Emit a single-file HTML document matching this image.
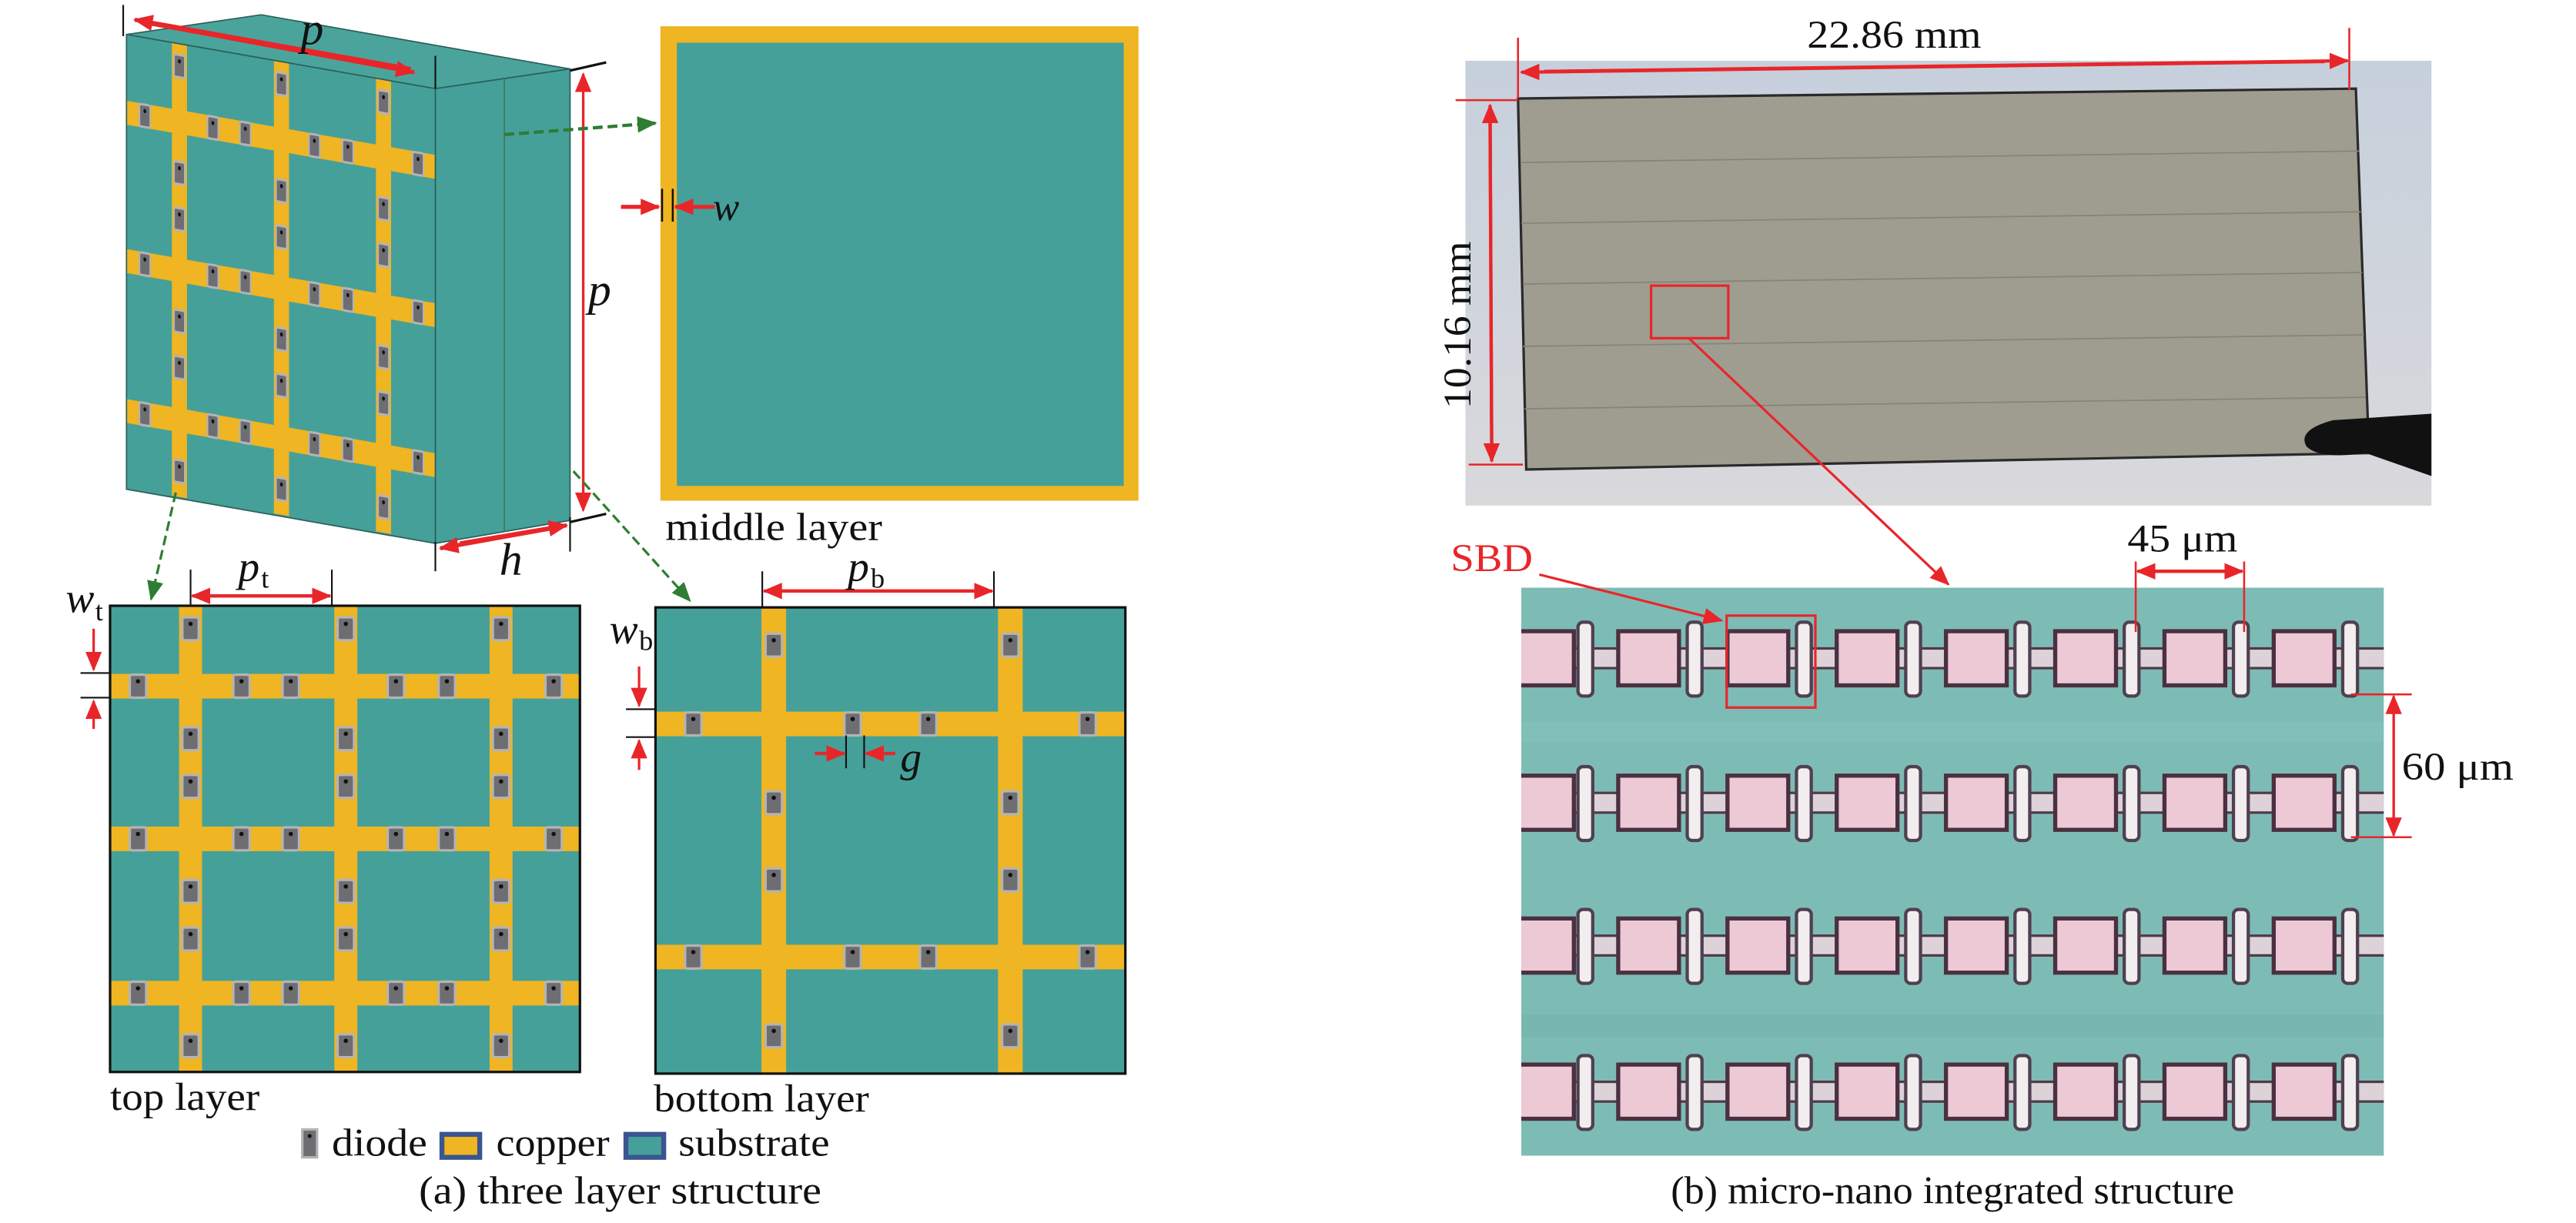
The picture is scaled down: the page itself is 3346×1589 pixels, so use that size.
<!DOCTYPE html>
<html><head><meta charset="utf-8"><style>
html,body{margin:0;padding:0;background:#fff;}
svg{display:block;}
text{font-family:"Liberation Serif",serif;fill:#111;}
</style></head><body>
<svg width="3346" height="1589" viewBox="0 0 1568 745" preserveAspectRatio="none" xmlns="http://www.w3.org/2000/svg">
<defs>
<marker id="ar" markerWidth="12" markerHeight="10" refX="11" refY="5" orient="auto" markerUnits="userSpaceOnUse"><path d="M0,0 L12,5 L0,10 z" fill="#e8262a"/></marker>
<marker id="ag" markerWidth="12" markerHeight="10" refX="11" refY="5" orient="auto" markerUnits="userSpaceOnUse"><path d="M0,0 L12,5 L0,10 z" fill="#2e7d32"/></marker>
<g id="d"><rect x="-5" y="-7" width="10" height="14" rx="1.5" fill="#6d6d72" stroke="#b4b4b4" stroke-width="1.5"/><circle cx="0" cy="-3" r="1.3" fill="#111"/></g>
<g id="top">
<rect x="67" y="369" width="286" height="284" fill="#45a09a"/>
<rect x="109" y="369" width="14" height="284" fill="#efb522"/>
<rect x="203.5" y="369" width="14" height="284" fill="#efb522"/>
<rect x="298" y="369" width="14" height="284" fill="#efb522"/>
<rect x="67" y="410.5" width="286" height="15" fill="#efb522"/>
<rect x="67" y="503.5" width="286" height="15" fill="#efb522"/>
<rect x="67" y="597.5" width="286" height="15" fill="#efb522"/>
<use href="#d" x="116" y="383"/><use href="#d" x="116" y="450"/><use href="#d" x="116" y="479"/><use href="#d" x="116" y="543"/><use href="#d" x="116" y="572"/><use href="#d" x="116" y="637"/>
<use href="#d" x="210.5" y="383"/><use href="#d" x="210.5" y="450"/><use href="#d" x="210.5" y="479"/><use href="#d" x="210.5" y="543"/><use href="#d" x="210.5" y="572"/><use href="#d" x="210.5" y="637"/>
<use href="#d" x="305" y="383"/><use href="#d" x="305" y="450"/><use href="#d" x="305" y="479"/><use href="#d" x="305" y="543"/><use href="#d" x="305" y="572"/><use href="#d" x="305" y="637"/>
<use href="#d" x="84" y="418"/><use href="#d" x="147" y="418"/><use href="#d" x="177" y="418"/><use href="#d" x="241" y="418"/><use href="#d" x="272" y="418"/><use href="#d" x="337" y="418"/>
<use href="#d" x="84" y="511"/><use href="#d" x="147" y="511"/><use href="#d" x="177" y="511"/><use href="#d" x="241" y="511"/><use href="#d" x="272" y="511"/><use href="#d" x="337" y="511"/>
<use href="#d" x="84" y="605"/><use href="#d" x="147" y="605"/><use href="#d" x="177" y="605"/><use href="#d" x="241" y="605"/><use href="#d" x="272" y="605"/><use href="#d" x="337" y="605"/>
</g>
<g id="row">
<rect x="926" y="-6" width="530" height="12" fill="#ddd2d8" stroke="#503848" stroke-width="1.5"/>
<rect x="920" y="-16.5" width="38" height="33" fill="#ecc9d4" stroke="#4a3040" stroke-width="2.5"/>
<rect x="985" y="-16.5" width="37" height="33" fill="#ecc9d4" stroke="#4a3040" stroke-width="2.5"/>
<rect x="1051.5" y="-16.5" width="37" height="33" fill="#ecc9d4" stroke="#4a3040" stroke-width="2.5"/>
<rect x="1118" y="-16.5" width="37" height="33" fill="#ecc9d4" stroke="#4a3040" stroke-width="2.5"/>
<rect x="1184.5" y="-16.5" width="37" height="33" fill="#ecc9d4" stroke="#4a3040" stroke-width="2.5"/>
<rect x="1251" y="-16.5" width="37" height="33" fill="#ecc9d4" stroke="#4a3040" stroke-width="2.5"/>
<rect x="1317.5" y="-16.5" width="37" height="33" fill="#ecc9d4" stroke="#4a3040" stroke-width="2.5"/>
<rect x="1384" y="-16.5" width="37" height="33" fill="#ecc9d4" stroke="#4a3040" stroke-width="2.5"/>
<rect x="960.5" y="-22" width="9" height="45" rx="3" fill="#f2eef0" stroke="#504050" stroke-width="2"/>
<rect x="1027" y="-22" width="9" height="45" rx="3" fill="#f2eef0" stroke="#504050" stroke-width="2"/>
<rect x="1093.5" y="-22" width="9" height="45" rx="3" fill="#f2eef0" stroke="#504050" stroke-width="2"/>
<rect x="1160" y="-22" width="9" height="45" rx="3" fill="#f2eef0" stroke="#504050" stroke-width="2"/>
<rect x="1226.5" y="-22" width="9" height="45" rx="3" fill="#f2eef0" stroke="#504050" stroke-width="2"/>
<rect x="1293" y="-22" width="9" height="45" rx="3" fill="#f2eef0" stroke="#504050" stroke-width="2"/>
<rect x="1359.5" y="-22" width="9" height="45" rx="3" fill="#f2eef0" stroke="#504050" stroke-width="2"/>
<rect x="1426" y="-22" width="9" height="45" rx="3" fill="#f2eef0" stroke="#504050" stroke-width="2"/>
</g>
<clipPath id="mc"><rect x="926" y="358" width="525" height="346"/></clipPath>
<linearGradient id="pg" x1="0" y1="0" x2="0" y2="1"><stop offset="0" stop-color="#c6d0dc"/><stop offset="1" stop-color="#d9d9dc"/></linearGradient>
</defs>

<!-- 3D box -->
<polygon points="77,21 159,9 347,42 265,54" fill="#4aa49c" stroke="#2d5f5a" stroke-width="0.8"/>
<polygon points="265,54 347,42 347,317 265,331" fill="#45a09a" stroke="#2d5f5a" stroke-width="0.8"/>
<line x1="307" y1="48" x2="307" y2="324" stroke="#3a7d55" stroke-width="0.8"/>
<polygon points="77,21 265,54 265,331 77,298" fill="#45a09a"/>
<use href="#top" transform="matrix(0.6573,0.1154,0,0.9718,32.96,-345.3)"/>
<polygon points="77,21 265,54 265,331 77,298" fill="none" stroke="#2d5f5a" stroke-width="0.8"/>

<!-- 3D dims -->
<line x1="75" y1="3" x2="75" y2="22" stroke="#111" stroke-width="1"/>
<line x1="265" y1="34" x2="265" y2="54" stroke="#111" stroke-width="1"/>
<line x1="90" y1="14" x2="252" y2="44" stroke="#e8262a" stroke-width="2.5" marker-end="url(#ar)"/>
<line x1="250" y1="42" x2="82" y2="12" stroke="#e8262a" stroke-width="2.5" marker-end="url(#ar)"/>
<text x="183" y="27" font-size="28" font-style="italic">p</text>
<line x1="347" y1="43" x2="369" y2="38" stroke="#111" stroke-width="1.5"/>
<line x1="347" y1="318" x2="369" y2="313" stroke="#111" stroke-width="1.5"/>
<line x1="355" y1="300" x2="355" y2="45" stroke="#e8262a" stroke-width="1.5" marker-end="url(#ar)"/>
<line x1="355" y1="60" x2="355" y2="311" stroke="#e8262a" stroke-width="1.5" marker-end="url(#ar)"/>
<text x="358" y="186" font-size="28" font-style="italic">p</text>
<line x1="265" y1="330" x2="265" y2="348" stroke="#111" stroke-width="1"/>
<line x1="347" y1="315" x2="347" y2="336" stroke="#111" stroke-width="1"/>
<line x1="280" y1="331" x2="345" y2="320" stroke="#e8262a" stroke-width="2.5" marker-end="url(#ar)"/>
<line x1="335" y1="322" x2="268" y2="334" stroke="#e8262a" stroke-width="2.5" marker-end="url(#ar)"/>
<text x="304" y="350" font-size="28" font-style="italic">h</text>

<!-- middle layer -->
<rect x="402" y="16" width="291" height="289" fill="#efb522"/>
<rect x="412" y="26" width="272" height="270" fill="#45a09a"/>
<line x1="403" y1="115" x2="403" y2="135" stroke="#111" stroke-width="1.2"/>
<line x1="409.5" y1="115" x2="409.5" y2="135" stroke="#111" stroke-width="1.2"/>
<line x1="378" y1="126" x2="401" y2="126" stroke="#e8262a" stroke-width="2.5" marker-end="url(#ar)"/>
<line x1="435" y1="126" x2="411" y2="126" stroke="#e8262a" stroke-width="2.5" marker-end="url(#ar)"/>
<text x="434" y="134" font-size="24" font-style="italic">w</text>
<text x="405" y="329" font-size="24" textLength="132" lengthAdjust="spacingAndGlyphs">middle layer</text>

<!-- green dashed connectors -->
<line x1="307" y1="82" x2="399" y2="75" stroke="#2e7d32" stroke-width="2" stroke-dasharray="6,3" marker-end="url(#ag)"/>
<line x1="107" y1="300" x2="92" y2="365" stroke="#2e7d32" stroke-width="1.5" stroke-dasharray="6,3" marker-end="url(#ag)"/>
<line x1="349" y1="287" x2="420" y2="366" stroke="#2e7d32" stroke-width="1.5" stroke-dasharray="6,3" marker-end="url(#ag)"/>

<!-- top layer -->
<use href="#top"/>
<rect x="67" y="369" width="286" height="284" fill="none" stroke="#111" stroke-width="1.5"/>
<line x1="116" y1="347" x2="116" y2="369" stroke="#111" stroke-width="1"/>
<line x1="202" y1="347" x2="202" y2="369" stroke="#111" stroke-width="1"/>
<line x1="125" y1="363" x2="201" y2="363" stroke="#e8262a" stroke-width="2" marker-end="url(#ar)"/>
<line x1="193" y1="363" x2="117" y2="363" stroke="#e8262a" stroke-width="2" marker-end="url(#ar)"/>
<text x="145" y="354" font-size="26" font-style="italic">p</text><text x="159" y="358" font-size="17">t</text>
<text x="40" y="373" font-size="26" font-style="italic">w</text><text x="58" y="378" font-size="17">t</text>
<line x1="49" y1="410" x2="67" y2="410" stroke="#111" stroke-width="1"/>
<line x1="49" y1="425" x2="67" y2="425" stroke="#111" stroke-width="1"/>
<line x1="57" y1="383" x2="57" y2="408" stroke="#e8262a" stroke-width="1.5" marker-end="url(#ar)"/>
<line x1="57" y1="444" x2="57" y2="427" stroke="#e8262a" stroke-width="1.5" marker-end="url(#ar)"/>
<text x="67" y="676" font-size="24" textLength="91" lengthAdjust="spacingAndGlyphs">top layer</text>

<!-- bottom layer -->
<rect x="399" y="370" width="286" height="284" fill="#45a09a"/>
<rect x="463.5" y="370" width="15" height="284" fill="#efb522"/>
<rect x="607.5" y="370" width="15" height="284" fill="#efb522"/>
<rect x="399" y="433.5" width="286" height="15" fill="#efb522"/>
<rect x="399" y="575.5" width="286" height="15" fill="#efb522"/>
<use href="#d" x="471" y="393"/><use href="#d" x="471" y="489"/><use href="#d" x="471" y="536"/><use href="#d" x="471" y="631"/>
<use href="#d" x="615" y="393"/><use href="#d" x="615" y="489"/><use href="#d" x="615" y="536"/><use href="#d" x="615" y="631"/>
<use href="#d" x="422" y="441"/><use href="#d" x="519" y="441"/><use href="#d" x="565" y="441"/><use href="#d" x="662" y="441"/>
<use href="#d" x="422" y="583"/><use href="#d" x="519" y="583"/><use href="#d" x="565" y="583"/><use href="#d" x="662" y="583"/>
<rect x="399" y="370" width="286" height="284" fill="none" stroke="#111" stroke-width="1.5"/>
<line x1="464" y1="348" x2="464" y2="370" stroke="#111" stroke-width="1"/>
<line x1="605" y1="348" x2="605" y2="370" stroke="#111" stroke-width="1"/>
<line x1="474" y1="360" x2="604" y2="360" stroke="#e8262a" stroke-width="2" marker-end="url(#ar)"/>
<line x1="595" y1="360" x2="465" y2="360" stroke="#e8262a" stroke-width="2" marker-end="url(#ar)"/>
<text x="516" y="354" font-size="26" font-style="italic">p</text><text x="530" y="358" font-size="17">b</text>
<text x="371" y="392" font-size="26" font-style="italic">w</text><text x="389" y="396" font-size="17">b</text>
<line x1="381" y1="432" x2="399" y2="432" stroke="#111" stroke-width="1"/>
<line x1="381" y1="449" x2="399" y2="449" stroke="#111" stroke-width="1"/>
<line x1="389" y1="406" x2="389" y2="430" stroke="#e8262a" stroke-width="1.5" marker-end="url(#ar)"/>
<line x1="389" y1="469" x2="389" y2="451" stroke="#e8262a" stroke-width="1.5" marker-end="url(#ar)"/>
<line x1="515" y1="448" x2="515" y2="468" stroke="#111" stroke-width="1"/>
<line x1="526" y1="448" x2="526" y2="468" stroke="#111" stroke-width="1"/>
<line x1="496" y1="459" x2="514" y2="459" stroke="#e8262a" stroke-width="2" marker-end="url(#ar)"/>
<line x1="545" y1="459" x2="527" y2="459" stroke="#e8262a" stroke-width="2" marker-end="url(#ar)"/>
<text x="548" y="470" font-size="26" font-style="italic">g</text>
<text x="398" y="677" font-size="24" textLength="131" lengthAdjust="spacingAndGlyphs">bottom layer</text>

<!-- legend -->
<rect x="184" y="688" width="9" height="17" fill="#6d6d72" stroke="#b4b4b4" stroke-width="1.5"/><circle cx="188.5" cy="692" r="1.2" fill="#111"/>
<text x="202" y="704" font-size="24" textLength="58" lengthAdjust="spacingAndGlyphs">diode</text>
<rect x="269" y="691" width="23" height="14" fill="#efb522" stroke="#3a5590" stroke-width="3"/>
<text x="302" y="704" font-size="24" textLength="69" lengthAdjust="spacingAndGlyphs">copper</text>
<rect x="381" y="691" width="23" height="14" fill="#45a09a" stroke="#3a5590" stroke-width="3"/>
<text x="413" y="704" font-size="24" textLength="92" lengthAdjust="spacingAndGlyphs">substrate</text>
<text x="255" y="733" font-size="24" textLength="245" lengthAdjust="spacingAndGlyphs">(a) three layer structure</text>

<!-- photo -->
<rect x="892" y="37" width="588" height="271" fill="url(#pg)"/>
<polygon points="924,60 1434,54 1442,276 929,286" fill="#9f9c90" stroke="#2a2a2a" stroke-width="1.5"/>
<g stroke="#86837a" stroke-width="0.8">
<line x1="926" y1="99" x2="1436" y2="92"/>
<line x1="926" y1="136" x2="1437" y2="129"/>
<line x1="927" y1="173" x2="1438" y2="166"/>
<line x1="927" y1="211" x2="1439" y2="204"/>
<line x1="928" y1="249" x2="1440" y2="242"/>
</g>
<path d="M1480,252 L1420,256 Q1398,262 1404,272 Q1412,280 1440,276 L1480,290 Z" fill="#111"/>
<line x1="924" y1="23" x2="924" y2="60" stroke="#e8262a" stroke-width="1.2"/>
<line x1="1430" y1="17" x2="1430" y2="55" stroke="#e8262a" stroke-width="1.2"/>
<line x1="940" y1="43.5" x2="1429" y2="37" stroke="#e8262a" stroke-width="2" marker-end="url(#ar)"/>
<line x1="1415" y1="37.5" x2="926" y2="44" stroke="#e8262a" stroke-width="2" marker-end="url(#ar)"/>
<text x="1100" y="29" font-size="24" textLength="106" lengthAdjust="spacingAndGlyphs">22.86 mm</text>
<line x1="886" y1="61" x2="924" y2="61" stroke="#e8262a" stroke-width="1.2"/>
<line x1="894" y1="283" x2="927" y2="283" stroke="#e8262a" stroke-width="1.2"/>
<line x1="908" y1="270" x2="907" y2="64" stroke="#e8262a" stroke-width="2" marker-end="url(#ar)"/>
<line x1="907" y1="75" x2="908" y2="281" stroke="#e8262a" stroke-width="2" marker-end="url(#ar)"/>
<text transform="translate(895,249) rotate(-90)" font-size="24" textLength="102" lengthAdjust="spacingAndGlyphs">10.16 mm</text>
<rect x="1005" y="174" width="47" height="32" fill="none" stroke="#e8262a" stroke-width="1.5"/>
<line x1="1028" y1="206" x2="1186" y2="356" stroke="#e8262a" stroke-width="1.5" marker-end="url(#ar)"/>

<!-- micro image -->
<rect x="926" y="358" width="525" height="346" fill="#7dbcb5"/>
<g clip-path="url(#mc)">
<rect x="926" y="440" width="525" height="12" fill="#86c2bb" opacity="0.6"/>
<rect x="926" y="618" width="525" height="14" fill="#74b4ad" opacity="0.6"/>
<use href="#row" y="401"/>
<use href="#row" y="489"/>
<use href="#row" y="576"/>
<use href="#row" y="665"/>
</g>
<rect x="1051" y="375" width="54" height="56" fill="none" stroke="#e8262a" stroke-width="1.5"/>
<text x="883" y="348" font-size="24" fill="#e8262a" style="fill:#e8262a" textLength="50" lengthAdjust="spacingAndGlyphs">SBD</text>
<line x1="937" y1="350" x2="1048" y2="378" stroke="#e8262a" stroke-width="1.5" marker-end="url(#ar)"/>
<line x1="1300" y1="342" x2="1300" y2="385" stroke="#e8262a" stroke-width="1.2"/>
<line x1="1366" y1="342" x2="1366" y2="385" stroke="#e8262a" stroke-width="1.2"/>
<line x1="1310" y1="348" x2="1365" y2="348" stroke="#e8262a" stroke-width="2" marker-end="url(#ar)"/>
<line x1="1356" y1="348" x2="1301" y2="348" stroke="#e8262a" stroke-width="2" marker-end="url(#ar)"/>
<text x="1295" y="336" font-size="24" textLength="67" lengthAdjust="spacingAndGlyphs">45 μm</text>
<line x1="1431" y1="423" x2="1468" y2="423" stroke="#e8262a" stroke-width="1.2"/>
<line x1="1431" y1="510" x2="1468" y2="510" stroke="#e8262a" stroke-width="1.2"/>
<line x1="1457" y1="435" x2="1457" y2="509" stroke="#e8262a" stroke-width="1.5" marker-end="url(#ar)"/>
<line x1="1457" y1="498" x2="1457" y2="424" stroke="#e8262a" stroke-width="1.5" marker-end="url(#ar)"/>
<text x="1462" y="475" font-size="24" textLength="68" lengthAdjust="spacingAndGlyphs">60 μm</text>
<text x="1017" y="733" font-size="24" textLength="343" lengthAdjust="spacingAndGlyphs">(b) micro-nano integrated structure</text>
</svg>
</body></html>
